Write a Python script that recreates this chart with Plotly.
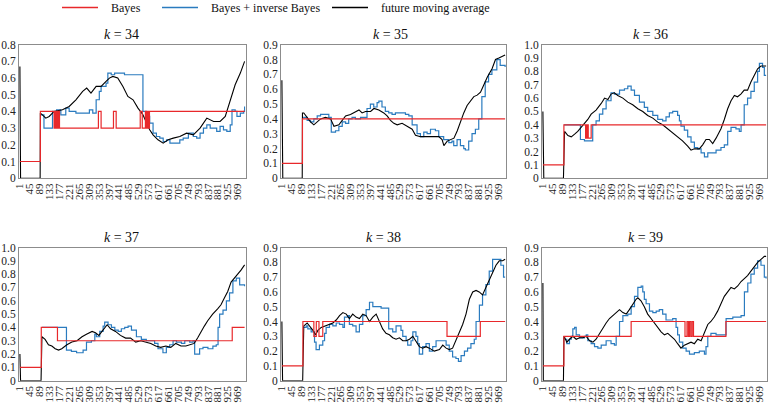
import plotly.graph_objects as go

# ---------------- data ----------------
x_ticks = list(range(1, 1001, 44))
k_labels = [34, 35, 36, 37, 38, 39]
y_max = [0.8, 0.9, 1.0, 1.0, 0.9, 0.9]

# k = 34
k34_bayes_x = [1, 92, 153, 156, 159, 162, 165, 168, 171, 174, 177, 350, 362, 417, 429, 536, 545, 559, 562, 565, 568, 571, 574, 577, 1000]
k34_bayes_y = [0.1, 0.4, 0.3, 0.4, 0.3, 0.4, 0.3, 0.4, 0.3, 0.4, 0.3, 0.4, 0.3, 0.4, 0.3, 0.4, 0.3, 0.4, 0.3, 0.4, 0.3, 0.4, 0.3, 0.4, 0.4]
k34_inv_x = [95, 108, 146, 164, 183, 205, 220, 250, 310, 325, 340, 354, 362, 384, 392, 407, 422, 466, 548, 563, 578, 593, 608, 623, 638, 653, 668, 697, 712, 727, 750, 772, 787, 802, 817, 832, 847, 862, 876, 891, 906, 921, 936, 944, 958, 966, 981, 996, 1000]
k34_inv_y = [0.38, 0.30, 0.40, 0.41, 0.38, 0.42, 0.40, 0.39, 0.41, 0.39, 0.47, 0.52, 0.55, 0.57, 0.63, 0.62, 0.63, 0.62, 0.40, 0.37, 0.33, 0.27, 0.25, 0.24, 0.22, 0.23, 0.21, 0.21, 0.23, 0.24, 0.27, 0.25, 0.24, 0.27, 0.30, 0.32, 0.30, 0.30, 0.28, 0.31, 0.29, 0.28, 0.32, 0.41, 0.40, 0.37, 0.39, 0.40, 0.43]
k34_ma_x = [1, 2, 3, 4, 91, 92, 101, 116, 131, 153, 190, 220, 250, 280, 298, 317, 340, 362, 384, 399, 414, 429, 436, 459, 481, 504, 526, 548, 563, 578, 593, 615, 638, 660, 683, 712, 742, 772, 802, 832, 862, 891, 914, 936, 958, 981, 1000]
k34_ma_y = [0.67, 0.37, 0.55, 0.0, 0.0, 0.39, 0.38, 0.36, 0.37, 0.40, 0.41, 0.43, 0.47, 0.52, 0.54, 0.51, 0.55, 0.55, 0.58, 0.60, 0.61, 0.60, 0.60, 0.55, 0.49, 0.47, 0.42, 0.38, 0.33, 0.29, 0.26, 0.23, 0.21, 0.23, 0.24, 0.25, 0.27, 0.26, 0.30, 0.36, 0.34, 0.34, 0.37, 0.46, 0.56, 0.63, 0.70]

# k = 35
k35_bayes_x = [1, 93, 1000]
k35_bayes_y = [0.1, 0.4, 0.4]
k35_inv_x = [96, 114, 129, 144, 159, 174, 196, 211, 222, 241, 256, 271, 286, 300, 315, 330, 353, 368, 382, 397, 412, 427, 435, 449, 464, 479, 494, 509, 531, 554, 569, 584, 606, 621, 636, 651, 666, 688, 703, 725, 748, 762, 770, 785, 800, 815, 822, 837, 852, 867, 882, 896, 911, 926, 941, 963, 978, 1000]
k35_inv_y = [0.41, 0.39, 0.38, 0.40, 0.42, 0.43, 0.43, 0.41, 0.31, 0.32, 0.35, 0.38, 0.37, 0.40, 0.41, 0.40, 0.41, 0.41, 0.47, 0.50, 0.48, 0.51, 0.52, 0.48, 0.45, 0.44, 0.43, 0.44, 0.44, 0.43, 0.42, 0.36, 0.30, 0.28, 0.31, 0.30, 0.33, 0.32, 0.28, 0.26, 0.24, 0.25, 0.22, 0.26, 0.22, 0.20, 0.19, 0.25, 0.30, 0.33, 0.40, 0.55, 0.65, 0.70, 0.73, 0.80, 0.76, 0.75]
k35_ma_x = [1, 2, 3, 4, 5, 92, 93, 99, 114, 129, 144, 159, 174, 196, 219, 234, 256, 271, 286, 308, 331, 346, 360, 375, 398, 413, 435, 457, 472, 487, 502, 517, 539, 562, 584, 599, 621, 651, 681, 703, 718, 726, 741, 756, 771, 786, 800, 815, 830, 845, 860, 875, 890, 905, 920, 942, 957, 972, 987, 1000]
k35_ma_y = [0.66, 0.50, 0.60, 0.37, 0.0, 0.0, 0.44, 0.44, 0.41, 0.38, 0.36, 0.38, 0.40, 0.41, 0.40, 0.35, 0.36, 0.39, 0.42, 0.43, 0.45, 0.46, 0.44, 0.45, 0.45, 0.47, 0.46, 0.44, 0.42, 0.39, 0.37, 0.36, 0.37, 0.35, 0.33, 0.29, 0.28, 0.28, 0.28, 0.28, 0.26, 0.22, 0.25, 0.26, 0.27, 0.32, 0.38, 0.44, 0.49, 0.52, 0.55, 0.56, 0.58, 0.63, 0.68, 0.74, 0.80, 0.81, 0.82, 0.83]

# k = 36
k36_bayes_x = [1, 95, 192, 194, 196, 198, 200, 202, 204, 217, 1000]
k36_bayes_y = [0.1, 0.4, 0.3, 0.4, 0.3, 0.4, 0.3, 0.4, 0.3, 0.4, 0.4]
k36_inv_x = [96, 169, 187, 224, 239, 254, 269, 284, 306, 321, 344, 366, 381, 396, 411, 433, 455, 470, 493, 515, 537, 552, 567, 582, 604, 612, 619, 634, 649, 664, 679, 694, 709, 724, 739, 761, 776, 798, 813, 828, 843, 865, 880, 888, 902, 917, 932, 947, 962, 970, 984, 992, 1000]
k36_inv_y = [0.40, 0.29, 0.28, 0.40, 0.43, 0.48, 0.52, 0.58, 0.64, 0.63, 0.66, 0.67, 0.69, 0.66, 0.62, 0.57, 0.53, 0.50, 0.47, 0.44, 0.43, 0.46, 0.49, 0.50, 0.47, 0.43, 0.39, 0.36, 0.31, 0.27, 0.23, 0.22, 0.19, 0.16, 0.19, 0.19, 0.21, 0.23, 0.25, 0.35, 0.38, 0.37, 0.35, 0.40, 0.55, 0.60, 0.65, 0.72, 0.80, 0.86, 0.83, 0.77, 0.77]
k36_ma_x = [1, 2, 3, 4, 5, 93, 95, 98, 113, 128, 143, 157, 172, 187, 202, 217, 239, 262, 277, 292, 306, 321, 336, 359, 381, 403, 426, 448, 470, 493, 515, 537, 560, 582, 604, 626, 649, 664, 679, 701, 716, 731, 746, 761, 776, 798, 813, 828, 843, 858, 872, 887, 902, 917, 932, 947, 962, 977, 1000]
k36_ma_y = [0.50, 0.25, 0.40, 0.30, 0.0, 0.0, 0.35, 0.35, 0.32, 0.31, 0.33, 0.35, 0.38, 0.41, 0.44, 0.48, 0.51, 0.56, 0.60, 0.59, 0.63, 0.64, 0.62, 0.60, 0.57, 0.55, 0.52, 0.50, 0.47, 0.45, 0.42, 0.40, 0.37, 0.34, 0.31, 0.28, 0.24, 0.21, 0.22, 0.22, 0.25, 0.29, 0.29, 0.26, 0.30, 0.37, 0.44, 0.52, 0.58, 0.62, 0.61, 0.63, 0.66, 0.66, 0.72, 0.77, 0.82, 0.84, 0.84]

# k = 37
k37_bayes_x = [1, 96, 168, 945, 1000]
k37_bayes_y = [0.1, 0.4, 0.3, 0.4, 0.4]
k37_inv_x = [99, 208, 230, 253, 282, 297, 319, 334, 341, 356, 371, 378, 393, 408, 423, 438, 452, 467, 482, 497, 519, 541, 563, 600, 615, 637, 652, 667, 682, 697, 719, 734, 756, 771, 778, 800, 815, 837, 859, 874, 882, 889, 904, 919, 933, 948, 963, 978, 1000]
k37_inv_y = [0.40, 0.23, 0.22, 0.21, 0.23, 0.29, 0.30, 0.35, 0.33, 0.37, 0.41, 0.44, 0.42, 0.40, 0.38, 0.37, 0.39, 0.40, 0.41, 0.38, 0.33, 0.31, 0.30, 0.28, 0.24, 0.21, 0.25, 0.27, 0.30, 0.29, 0.28, 0.30, 0.29, 0.30, 0.20, 0.24, 0.25, 0.24, 0.26, 0.27, 0.40, 0.50, 0.53, 0.60, 0.66, 0.75, 0.77, 0.72, 0.71]
k37_ma_x = [1, 2, 3, 4, 95, 97, 99, 113, 128, 143, 158, 173, 187, 210, 232, 255, 277, 299, 322, 337, 352, 366, 381, 389, 404, 426, 448, 471, 493, 516, 538, 560, 583, 605, 627, 650, 672, 694, 717, 739, 761, 776, 791, 806, 821, 836, 858, 880, 895, 910, 925, 940, 955, 970, 984, 1000]
k37_ma_y = [0.20, 0.05, 0.18, 0.0, 0.0, 0.33, 0.33, 0.31, 0.27, 0.26, 0.24, 0.23, 0.24, 0.27, 0.29, 0.30, 0.33, 0.35, 0.37, 0.36, 0.34, 0.37, 0.40, 0.42, 0.39, 0.37, 0.34, 0.32, 0.32, 0.29, 0.30, 0.29, 0.28, 0.26, 0.25, 0.26, 0.25, 0.28, 0.26, 0.26, 0.27, 0.28, 0.32, 0.37, 0.41, 0.45, 0.50, 0.54, 0.57, 0.62, 0.67, 0.74, 0.77, 0.80, 0.83, 0.87]

# k = 38
k38_bayes_x = [1, 95, 144, 155, 167, 184, 740, 889, 1000]
k38_bayes_y = [0.1, 0.4, 0.3, 0.4, 0.3, 0.4, 0.3, 0.4, 0.4]
k38_inv_x = [96, 110, 117, 132, 147, 154, 169, 184, 192, 199, 214, 229, 244, 259, 274, 281, 296, 303, 318, 333, 348, 363, 378, 393, 408, 445, 479, 497, 512, 534, 542, 557, 564, 579, 587, 601, 609, 616, 631, 646, 661, 676, 691, 736, 750, 765, 780, 791, 803, 818, 832, 847, 862, 870, 885, 899, 914, 929, 944, 981, 993, 1000]
k38_inv_y = [0.36, 0.37, 0.35, 0.33, 0.26, 0.21, 0.24, 0.27, 0.32, 0.36, 0.38, 0.37, 0.39, 0.38, 0.36, 0.43, 0.44, 0.38, 0.37, 0.33, 0.38, 0.44, 0.48, 0.53, 0.50, 0.49, 0.35, 0.33, 0.37, 0.34, 0.30, 0.27, 0.24, 0.27, 0.33, 0.30, 0.25, 0.18, 0.23, 0.25, 0.20, 0.23, 0.27, 0.24, 0.20, 0.16, 0.15, 0.13, 0.17, 0.20, 0.22, 0.25, 0.28, 0.40, 0.51, 0.58, 0.65, 0.74, 0.82, 0.78, 0.70, 0.70]
k38_ma_x = [1, 2, 3, 4, 94, 96, 99, 114, 125, 140, 152, 162, 177, 192, 207, 229, 244, 259, 274, 289, 303, 318, 333, 348, 363, 378, 393, 408, 423, 438, 452, 467, 482, 497, 512, 527, 542, 557, 572, 587, 601, 616, 631, 646, 661, 683, 706, 721, 736, 750, 765, 780, 795, 810, 825, 840, 855, 870, 884, 899, 914, 929, 944, 959, 974, 989, 1000]
k38_ma_y = [0.40, 0.16, 0.33, 0.0, 0.0, 0.37, 0.37, 0.39, 0.37, 0.34, 0.31, 0.34, 0.36, 0.37, 0.38, 0.39, 0.41, 0.44, 0.46, 0.45, 0.42, 0.45, 0.43, 0.42, 0.45, 0.44, 0.40, 0.43, 0.45, 0.40, 0.35, 0.32, 0.31, 0.29, 0.28, 0.29, 0.27, 0.27, 0.28, 0.30, 0.27, 0.23, 0.22, 0.23, 0.22, 0.20, 0.21, 0.24, 0.22, 0.21, 0.22, 0.27, 0.32, 0.38, 0.45, 0.55, 0.60, 0.61, 0.60, 0.58, 0.63, 0.68, 0.74, 0.78, 0.81, 0.81, 0.82]

# k = 39
k39_bayes_x = [1, 95, 396, 637, 646, 652, 657, 663, 669, 675, 820, 1000]
k39_bayes_y = [0.1, 0.3, 0.4, 0.3, 0.4, 0.3, 0.4, 0.3, 0.4, 0.3, 0.4, 0.4]
k39_inv_x = [98, 108, 120, 128, 135, 143, 150, 165, 187, 195, 202, 217, 232, 247, 262, 284, 306, 321, 329, 344, 359, 381, 396, 411, 426, 441, 448, 455, 463, 478, 493, 508, 522, 537, 552, 582, 597, 604, 612, 627, 642, 657, 679, 701, 724, 731, 739, 753, 776, 813, 821, 851, 888, 903, 918, 932, 947, 962, 977, 992, 1000]
k39_inv_y = [0.28, 0.25, 0.28, 0.30, 0.35, 0.36, 0.31, 0.29, 0.30, 0.31, 0.27, 0.25, 0.23, 0.22, 0.24, 0.27, 0.25, 0.24, 0.30, 0.40, 0.44, 0.45, 0.50, 0.57, 0.63, 0.64, 0.60, 0.55, 0.52, 0.47, 0.46, 0.47, 0.48, 0.45, 0.41, 0.42, 0.36, 0.31, 0.26, 0.22, 0.20, 0.18, 0.19, 0.20, 0.18, 0.23, 0.30, 0.32, 0.31, 0.31, 0.42, 0.43, 0.44, 0.60, 0.66, 0.72, 0.76, 0.81, 0.78, 0.70, 0.69]
k39_ma_x = [1, 2, 3, 93, 95, 99, 108, 120, 135, 150, 165, 180, 195, 210, 225, 239, 254, 269, 284, 299, 314, 329, 344, 359, 374, 388, 403, 418, 426, 440, 455, 470, 485, 500, 515, 530, 545, 560, 575, 590, 604, 619, 634, 649, 664, 679, 694, 709, 724, 739, 753, 768, 783, 798, 813, 828, 843, 858, 873, 888, 902, 917, 932, 947, 962, 977, 992, 1000]
k39_ma_y = [0.66, 0.30, 0.0, 0.0, 0.30, 0.29, 0.26, 0.28, 0.30, 0.28, 0.29, 0.29, 0.30, 0.27, 0.26, 0.28, 0.32, 0.36, 0.39, 0.42, 0.44, 0.46, 0.48, 0.46, 0.45, 0.48, 0.52, 0.55, 0.56, 0.54, 0.50, 0.45, 0.42, 0.39, 0.36, 0.33, 0.31, 0.32, 0.30, 0.28, 0.25, 0.22, 0.24, 0.25, 0.26, 0.25, 0.28, 0.27, 0.32, 0.38, 0.40, 0.43, 0.47, 0.52, 0.57, 0.60, 0.63, 0.62, 0.64, 0.67, 0.69, 0.71, 0.74, 0.77, 0.80, 0.82, 0.84, 0.84]

series_names = ["Bayes", "Bayes + inverse Bayes", "future moving average"]

panels = [
    (k34_bayes_x, k34_bayes_y, k34_inv_x, k34_inv_y, k34_ma_x, k34_ma_y),
    (k35_bayes_x, k35_bayes_y, k35_inv_x, k35_inv_y, k35_ma_x, k35_ma_y),
    (k36_bayes_x, k36_bayes_y, k36_inv_x, k36_inv_y, k36_ma_x, k36_ma_y),
    (k37_bayes_x, k37_bayes_y, k37_inv_x, k37_inv_y, k37_ma_x, k37_ma_y),
    (k38_bayes_x, k38_bayes_y, k38_inv_x, k38_inv_y, k38_ma_x, k38_ma_y),
    (k39_bayes_x, k39_bayes_y, k39_inv_x, k39_inv_y, k39_ma_x, k39_ma_y),
]

# ---------------- styling / layout ----------------
W, H = 768, 403
FONT = "Liberation Serif"
RED = "#e8282b"
BLUE = "#2a7bbf"
BLACK = "#000000"
GRAY = "#8c8c8c"

col_px = [(19, 245.5), (281, 506), (542, 767)]
row_px = [(44.7, 178.2), (247.5, 380.7)]
title_cx = [121.5, 390, 650, 121, 383, 645]

fig = go.Figure()
layout_axes = {}
annotations = []

for i, (bx, by, ix, iy, mx, my) in enumerate(panels):
    n = i + 1
    r, c = divmod(i, 3)
    xa = "x" if n == 1 else f"x{n}"
    ya = "y" if n == 1 else f"y{n}"
    fig.add_trace(go.Scatter(x=ix, y=iy, mode="lines", line=dict(color=BLUE, width=1.2, shape="hv"),
                             name=series_names[1], showlegend=False, xaxis=xa, yaxis=ya, hoverinfo="skip"))
    fig.add_trace(go.Scatter(x=mx, y=my, mode="lines", line=dict(color=BLACK, width=1.1),
                             name=series_names[2], showlegend=False, xaxis=xa, yaxis=ya, hoverinfo="skip"))
    fig.add_trace(go.Scatter(x=bx, y=by, mode="lines", line=dict(color=RED, width=1.2, shape="hv"),
                             name=series_names[0], showlegend=False, xaxis=xa, yaxis=ya, hoverinfo="skip"))

    x0, x1 = col_px[c]
    yt, yb = row_px[r]
    ym = y_max[i]
    nt = int(round(ym * 10))
    yvals = [j / 10 for j in range(nt + 1)]
    ytext = ["0"] + [f"{v:.1f}" for v in yvals[1:]]
    key_x = "xaxis" if n == 1 else f"xaxis{n}"
    key_y = "yaxis" if n == 1 else f"yaxis{n}"
    layout_axes[key_x] = dict(
        domain=[x0 / W, x1 / W], range=[-3, 1004], anchor=ya, automargin=False,
        tickmode="array", tickvals=x_ticks, ticktext=[str(t) for t in x_ticks],
        tickangle=-90, tickfont=dict(size=11, color="#222", family=FONT),
        showline=True, mirror=True, linecolor=GRAY, linewidth=1,
        showgrid=False, zeroline=False, ticks="", fixedrange=True,
    )
    layout_axes[key_y] = dict(
        domain=[1 - yb / H, 1 - yt / H], range=[0, ym], anchor=xa, automargin=False,
        tickmode="array", tickvals=yvals, ticktext=ytext,
        tickfont=dict(size=11.5, color="#222", family=FONT),
        showline=True, mirror=True, linecolor=GRAY, linewidth=1,
        showgrid=False, zeroline=False, ticks="", fixedrange=True,
    )
    annotations.append(dict(
        text=f"<i>k</i> = {k_labels[i]}", xref="paper", yref="paper",
        x=title_cx[i] / W, y=1 - (yt - 10.5) / H, xanchor="center", yanchor="middle",
        showarrow=False, font=dict(size=14, color="#111", family=FONT),
    ))

# legend drawn at the top
legend_items = [(62, 98, RED, series_names[0]), (162, 198, BLUE, series_names[1]), (332, 368, BLACK, series_names[2])]
shapes = []
ly = 1 - 7.5 / H
for (a, b, col, name) in legend_items:
    shapes.append(dict(type="line", xref="paper", yref="paper", x0=a / W, x1=b / W, y0=ly, y1=ly,
                       line=dict(color=col, width=1.3)))
    annotations.append(dict(text=name, xref="paper", yref="paper", x=(b + 11) / W, y=ly,
                            xanchor="left", yanchor="middle", showarrow=False,
                            font=dict(size=12, color="#111", family=FONT)))

fig.update_layout(
    template="none",
    width=W, height=H, margin=dict(l=0, r=0, t=0, b=0),
    paper_bgcolor="white", plot_bgcolor="white",
    showlegend=False, font=dict(family=FONT, color="#111"),
    annotations=annotations, shapes=shapes,
    **layout_axes,
)

fig.write_html("out.html", config={"displayModeBar": False},
               post_script="document.body.style.margin='0';document.body.style.padding='0';")
